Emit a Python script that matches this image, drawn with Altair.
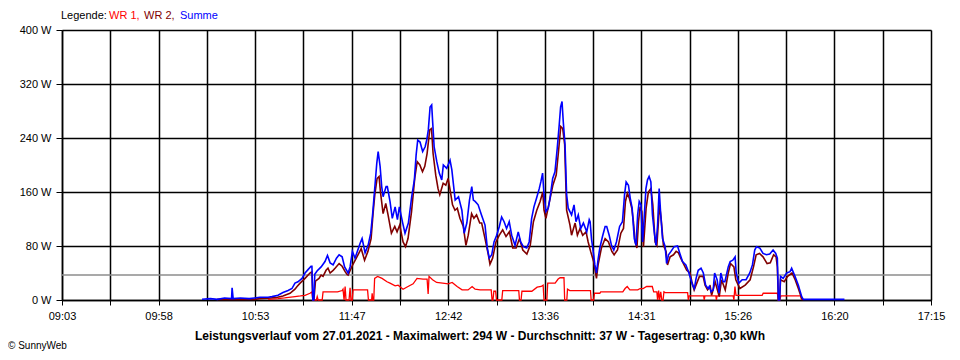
import altair as alt
import pandas as pd
import json

# ---------------- data ----------------
# x: minutes after 09:03 ; axis runs 09:03 .. 17:15 (492 min)
x_end = 492
tick_labels = ["09:03", "09:58", "10:53", "11:47", "12:42", "13:36", "14:31", "15:26", "16:20", "17:15"]
y_ticks = [0, 80, 160, 240, 320, 400]
average_w = [37]

summe_t = [79.3, 84, 88, 92, 96, 96.3, 96.9, 101, 106, 109, 112, 116.7, 118.9, 122.3, 125.1, 128, 130.2, 131.9, 133.6, 135.9,
           137.6, 139.3, 141.0, 141.5, 142.0, 142.6, 143.1, 144.4, 146.7, 148.9, 150.3, 151.8, 153.5, 155.4, 156.9, 158.6, 160.0,
           162.0, 163.1, 164.4, 165.9, 168.8, 169.9, 171.6, 173.3, 174.8, 175.9, 177.3, 178.2, 179.0, 180.1, 181.0, 181.8, 183.5,
           184.2, 185.7, 187.0, 188.6, 189.9, 191.0, 192.9, 194.2, 196.1, 198.0, 199.5, 200.5, 201.4, 202.7, 204.2, 205.6, 206.5,
           207.4, 208.4, 209.3, 209.9, 210.7, 212.2, 213.6, 215.0, 215.9, 217.8, 219.7, 220.7, 222.6, 224.5, 226.4, 227.7, 229.2,
           230.7, 232.0, 232.9, 233.9, 235.6, 237.5, 239.5, 240.8, 241.9, 243.3, 244.6, 246.1, 247.6, 248.9, 250.3, 251.7, 253.2,
           254.6, 256.5, 258.3, 259.7, 261.2, 263.1, 264.5, 265.9, 267.2, 268.7, 270.2, 271.1, 272.1, 272.9, 274.0, 275.3, 276.3,
           277.8, 279.1, 280.4, 281.5, 282.3, 283.1, 283.8, 284.8, 285.7, 286.6, 288.5, 289.9, 291.0, 292.3, 293.7, 295.2, 297.1,
           298.5, 299.0, 299.8, 300.7, 301.7, 302.6, 303.5, 304.5, 306.0, 307.5, 308.4, 309.8, 311.1, 312.4, 313.9, 315.7, 317.3,
           318.5, 319.4, 320.7, 321.7, 322.8, 324.0, 325.0, 325.9, 326.8, 327.8, 328.7, 329.7, 330.6, 331.5, 332.4, 333.4, 334.3,
           335.3, 336.3, 337.2, 338.1, 339.0, 340.0, 341.5, 342.3, 343.4, 344.8, 346.6, 348.5, 349.8, 351.3, 353.2, 354.7, 356.1,
           357.0, 358.0, 359.0, 360.2, 361.8, 363.1, 364.4, 365.8, 366.5, 367.5, 368.7, 369.5, 370.9, 372.0, 373.0, 374.3, 375.3,
           377.2, 378.3, 379.8, 381.1, 381.7, 383.2, 385.1, 387.3, 389.4, 390.9, 392.2, 393.2, 395.1, 396.9, 398.8, 400.7, 402.6,
           404.1, 405.0, 405.6, 406.3, 406.8, 408.3, 410.3, 412.2, 413.1, 415.0, 416.9, 418.8, 419.7, 443.0]
summe_w = [1, 2, 1, 3, 2, 18, 2, 3, 2, 3, 4, 4, 5, 7, 11, 14, 17, 25, 27, 32,
           40, 45, 50, 50, 0, 0, 38, 43, 49, 57, 66, 55, 52, 62, 67, 64, 49,
           40, 49, 72, 62, 84, 91, 70, 81, 99, 128, 173, 202, 220, 198, 168, 153, 168,
           168, 146, 121, 138, 119, 138, 114, 99, 114, 153, 178, 215, 237, 234, 220, 227, 237,
           252, 286, 289, 262, 227, 205, 188, 178, 200, 195, 207, 193, 148, 153, 133, 99, 114,
           148, 168, 148, 146, 141, 126, 111, 77, 62, 67, 86, 96, 109, 123, 116, 106, 116,
           96, 81, 101, 86, 79, 77, 86, 121, 138, 151, 165, 175, 188, 156, 131, 136, 151,
           180, 190, 225, 259, 286, 294, 264, 230, 156, 136, 126, 141, 116, 126, 106, 114, 101,
           119, 116, 90, 73, 52, 40, 60, 77, 94, 109, 109, 96, 81, 74, 86, 109, 116,
           156, 175, 170, 151, 136, 91, 81, 126, 146, 141, 86, 126, 165, 178, 183, 175, 126,
           101, 81, 111, 165, 126, 91, 79, 54, 67, 72, 79, 80, 69, 57, 52, 42, 30,
           22, 17, 32, 44, 47, 40, 22, 17, 20, 12, 15, 40, 30, 10, 40, 27, 27,
           49, 57, 59, 64, 40, 25, 30, 30, 40, 52, 74, 79, 77, 69, 67, 68, 74,
           69, 62, 0, 0, 35, 32, 40, 42, 47, 35, 22, 5, 1, 1]

wr2_t = [87.8, 100, 109, 112, 116.7, 122, 125.1, 128, 129.1, 131.9, 133.1, 134.8, 137.6, 140.4, 141.5, 142.0, 142.6, 143.5,
         145.5, 146.7, 147.8, 149.5, 150.6, 151.8, 153.5, 154.6, 156.9, 158.6, 160.3, 161.4, 162.0, 164.2, 166.6, 169.4, 171.3,
         173.2, 175.0, 176.1, 177.1, 178.4, 179.5, 180.3, 181.8, 183.3, 184.6, 186.5, 188.4, 189.7, 191.2, 193.1, 194.5, 195.9,
         197.9, 199.7, 201.1, 202.6, 204.1, 205.4, 206.7, 208.2, 209.2, 210.1, 211.6, 212.9, 213.9, 215.8, 217.3, 218.6, 219.6,
         221.1, 222.5, 223.8, 225.3, 227.2, 228.7, 230.0, 231.9, 233.2, 234.7, 236.5, 237.6, 239.5, 241.4, 242.3, 243.8, 245.7,
         247.6, 249.5, 251.4, 253.3, 255.2, 257.1, 259.0, 260.9, 263.2, 265.1, 266.9, 268.8, 270.7, 272.2, 272.9, 274.0, 276.0,
         277.9, 279.8, 281.1, 282.4, 283.5, 284.6, 285.7, 287.6, 288.5, 290.5, 291.8, 293.3, 294.8, 296.7, 297.9, 299.3, 301.0,
         302.1, 302.6, 303.5, 305.4, 307.5, 309.4, 311.3, 312.6, 314.5, 316.4, 317.9, 319.0, 320.1, 321.2, 322.6, 323.5, 324.5,
         325.5, 326.4, 327.3, 328.3, 329.2, 330.7, 332.0, 333.4, 334.5, 335.8, 336.8, 338.3, 339.2, 340.5, 342.0, 342.8, 344.3,
         346.2, 347.7, 349.0, 350.3, 352.2, 353.7, 355.6, 356.6, 357.9, 359.4, 360.9, 363.0, 364.1, 365.5, 367.0, 367.8, 369.8,
         372.1, 373.4, 375.5, 377.2, 378.5, 380.4, 381.5, 383.8, 386.8, 389.6, 391.5, 393.0, 394.9, 396.9, 399.2, 401.0, 402.9,
         404.3, 405.0, 405.6, 406.3, 406.8, 408.9, 410.8, 413.3, 415.1, 416.9, 418.8, 419.7]
wr2_w = [1, 1, 1, 2, 2.5, 4, 6, 9, 10, 16, 20, 25, 32, 40, 42, 0, 0, 28,
         32, 37, 35, 44, 47, 40, 44, 47, 54, 50, 42, 38, 37, 50, 62, 76, 59,
         72, 91, 128, 156, 180, 183, 160, 128, 143, 126, 99, 109, 101, 111, 86, 79, 91,
         131, 180, 205, 200, 190, 198, 217, 252, 254, 217, 185, 165, 156, 173, 170, 180, 165,
         141, 133, 136, 121, 109, 81, 96, 128, 121, 126, 114, 114, 91, 67, 53, 62, 86,
         96, 104, 94, 101, 77, 77, 91, 74, 68, 81, 116, 133, 146, 160, 133, 121, 146,
         170, 185, 220, 257, 254, 230, 133, 111, 96, 114, 96, 106, 96, 101, 86, 72, 57,
         40, 32, 52, 77, 91, 86, 72, 67, 74, 99, 106, 146, 158, 151, 136, 116, 86,
         77, 116, 138, 131, 79, 136, 160, 165, 141, 86, 81, 141, 121, 81, 72, 52, 64,
         67, 72, 70, 62, 52, 44, 40, 27, 15, 25, 35, 35, 22, 15, 20, 7, 27,
         5, 30, 15, 40, 54, 49, 30, 17, 22, 30, 49, 67, 69, 64, 54, 55, 67,
         64, 49, 0, 0, 30, 27, 35, 40, 30, 17, 2, 0]

wr1_t = [116.7, 122.3, 126, 131.9, 135, 137.6, 140.4, 141.5, 142.0, 144.0, 144.5, 145.0, 147.3, 147.8, 156.0, 158.6, 159.1,
         159.7, 160.3, 160.8, 162.5, 163.1, 163.6, 164.3, 164.8, 173.0, 173.5, 175.3, 175.6, 176.0, 176.5, 177.0, 178.7, 181.2,
         184.0, 185.7, 188.6, 190.3, 193.1, 195.9, 198.8, 201.0, 204.4, 206.7, 207.3, 207.8, 209.8, 212.1, 215.5, 218.6, 220.9,
         223.7, 226.5, 229.9, 232.2, 233.9, 236.7, 243.0, 243.5, 244.0, 244.5, 245.5, 246.0, 249.0, 249.5, 258.6, 259.0, 259.9,
         260.4, 266.0, 269.0, 271.3, 272.4, 272.9, 274.5, 275.0, 279.2, 280.9, 282.0, 284.2, 284.6, 285.8, 286.2, 287.5, 299.2,
         299.6, 301.0, 301.5, 304.5, 305.0, 317.5, 318.8, 320.0, 321.5, 326.0, 327.3, 329.0, 331.0, 334.2, 335.0, 336.8, 337.2,
         337.8, 338.3, 339.0, 339.6, 340.3, 340.8, 341.5, 354.2, 354.6, 355.1, 363.3, 363.6, 364.0, 370.2, 370.5, 370.9, 380.0,
         380.4, 381.0, 381.6, 396.4, 397.0, 405.0, 405.5, 406.3, 407.0, 418.2, 418.8]
wr1_w = [1, 2, 3, 5, 6, 7, 10, 12, 0, 0, 5, 0, 0, 12, 12, 14, 16,
         0, 20, 0, 0, 18, 0, 0, 15, 15, 0, 0, 10, 0, 0, 32, 35, 32,
         27, 25, 21, 22, 16, 20, 24, 32, 31, 31, 9, 35, 30, 26, 25, 24, 26,
         20, 15, 15, 20, 16, 15, 15, 0, 0, 13, 13, 0, 0, 14, 14, 0, 0,
         13, 13, 19, 20, 22, 0, 0, 25, 25, 31, 33, 33, 0, 0, 16, 14, 14,
         0, 0, 10, 10, 12, 12, 17, 20, 15, 15, 17, 17, 20, 20, 12, 12, 0,
         14, 0, 12, 0, 0, 12, 11, 11, 0, 6, 6, 0, 6, 6, 0, 6, 6,
         0, 20, 7, 7, 10, 10, 0, 0, 6, 6, 0]

# ---------------- tables ----------------
df_wr1 = pd.DataFrame({"t": wr1_t, "w": wr1_w})
df_wr2 = pd.DataFrame({"t": wr2_t, "w": wr2_w})
df_sum = pd.DataFrame({"t": summe_t, "w": summe_w})
df_avg = pd.DataFrame({"w": average_w})
one = pd.DataFrame({"a": [0]})

FONT = "Liberation Sans"
step = x_end / 18.0
x_values = [i * step for i in range(19)]
label_expr = (f"(round(datum.value / {step:.6f}) % 2 == 0) ? "
              f"{json.dumps(tick_labels)}[round(datum.value / {2*step:.6f})] : ''")

x_enc = alt.X("t:Q",
              scale=alt.Scale(domain=[0, x_end], nice=False, zero=False),
              axis=alt.Axis(values=x_values, labelExpr=label_expr, title=None,
                            grid=True, gridColor="#000000", gridWidth=1.5, gridOpacity=1,
                            domainColor="#000000", domainWidth=1.5,
                            tickColor="#000000", tickSize=5, tickWidth=1,
                            labelFont=FONT, labelFontSize=11, labelColor="#000000",
                            labelPadding=5, labelOverlap=False, labelFlush=False))
y_enc = alt.Y("w:Q",
              scale=alt.Scale(domain=[0, 400], nice=False),
              axis=alt.Axis(values=y_ticks, labelExpr="datum.value + ' W'", title=None,
                            grid=True, gridColor="#000000", gridWidth=1.5, gridOpacity=1,
                            domainColor="#000000", domainWidth=1.5,
                            tickColor="#000000", tickSize=6, tickWidth=1,
                            labelFont=FONT, labelFontSize=11, labelColor="#000000",
                            labelPadding=5))

avg_rule = alt.Chart(df_avg).mark_rule(color="#8c8c8c", strokeWidth=1.5).encode(y=y_enc)
l_wr1 = alt.Chart(df_wr1).mark_line(color="#ff0000", strokeWidth=1.3).encode(x=x_enc, y=y_enc)
l_wr2 = alt.Chart(df_wr2).mark_line(color="#800000", strokeWidth=1.6).encode(x=x_enc, y=y_enc)
l_sum = alt.Chart(df_sum).mark_line(color="#0000ff", strokeWidth=1.6).encode(x=x_enc, y=y_enc)


def label(text, x, y, color="#000000", size=11, weight="normal", align="left"):
    return alt.Chart(one).mark_text(text=text, font=FONT, fontSize=size, fontWeight=weight,
                                    color=color, align=align, baseline="middle").encode(
        x=alt.value(x), y=alt.value(y))


legend = (label("Legende:", -1, -14)
          + label("WR 1,", 47, -14, "#ff0000")
          + label("WR 2,", 82, -14, "#800000")
          + label("Summe", 118, -14, "#0000ff"))
footer = label("Leistungsverlauf vom 27.01.2021 - Maximalwert: 294 W - Durchschnitt: 37 W - Tagesertrag: 0,30 kWh",
               418, 306, size=12, weight="bold", align="center")
copy = label("© SunnyWeb", -54, 316, size=10)

chart = alt.layer(avg_rule, l_wr1, l_wr2, l_sum, legend, footer, copy).properties(
    width=869, height=270,
    autosize=alt.AutoSizeParams(type="none"),
    padding={"left": 54, "top": 22, "right": 18, "bottom": 52},
).configure_view(stroke=None).configure(background="#ffffff")

chart.save("out.html", embed_options={"renderer": "svg", "actions": False})
